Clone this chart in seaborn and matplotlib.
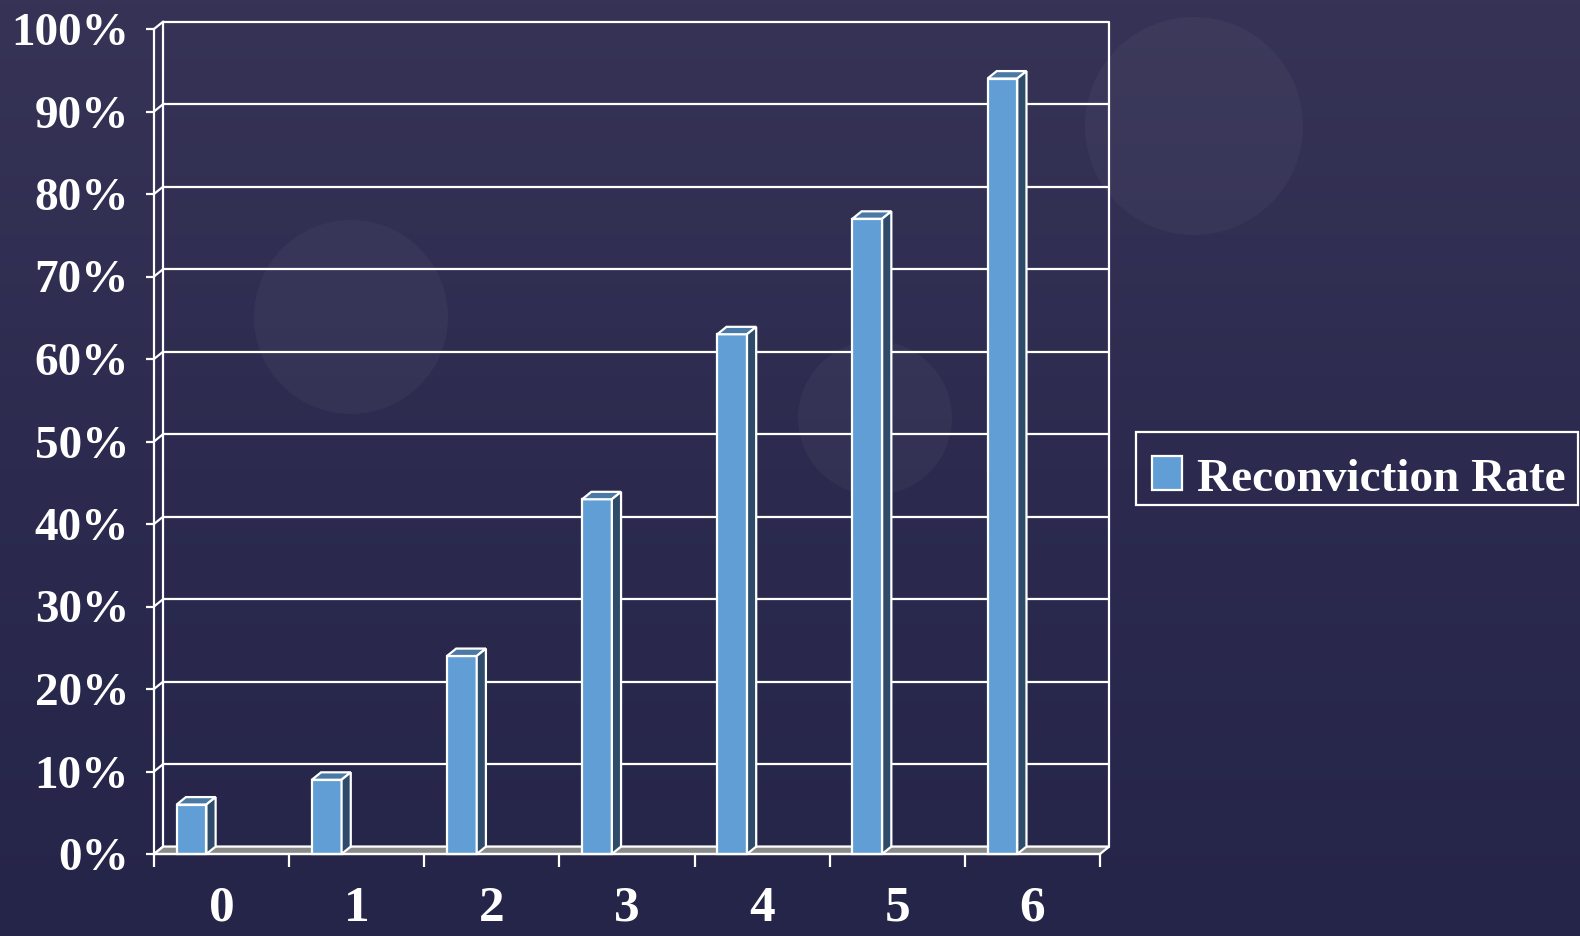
import numpy as np
import pandas as pd
import matplotlib
matplotlib.use("Agg")
import matplotlib.pyplot as plt
from matplotlib.patches import Polygon, Circle, Rectangle
from matplotlib.colors import LinearSegmentedColormap
import seaborn as sns

# --- data -------------------------------------------------------------
categories = ["0", "1", "2", "3", "4", "5", "6"]
rates = [6, 9, 24, 43, 63, 77, 94]
series_name = "Reconviction Rate"
y_ticks = list(range(0, 101, 10))
y_tick_labels = [f"{v}%" for v in y_ticks]

# --- style ------------------------------------------------------------
sns.set_theme(style="white")
plt.rcParams["font.family"] = ["Liberation Serif", "DejaVu Serif"]
plt.rcParams["font.weight"] = "bold"

FRONT = "#619ed5"
TOP = "#4b79a6"
SIDE = "#2e4b69"
FLOOR = "#8a8a8a"
LINE = "white"
LW = 1.6
FS = 34

W, H = 1580, 936
fig = plt.figure(figsize=(W / 100, H / 100), dpi=100)

# background: soft vertical gradient with faint round highlights
bg = fig.add_axes([0, 0, 1, 1], zorder=-10)
cmap = LinearSegmentedColormap.from_list("bg", ["#252449", "#2c2b4f", "#363356"])
grad = np.linspace(0, 1, 256).reshape(-1, 1)
bg.imshow(grad, cmap=cmap, aspect="auto", extent=[0, W, 0, H], origin="lower")
for cx, cy, r in [(1194, 126, 109), (351, 317, 97), (875, 418, 77)]:
    bg.add_patch(Circle((cx, H - cy), r, facecolor=(1, 1, 1, 0.035), edgecolor="none"))
bg.set_xlim(0, W)
bg.set_ylim(0, H)
bg.axis("off")

# front plane of the chart
left_px, right_px, bottom_px, top_px = 154, 1100, 854, 29
ax = fig.add_axes([left_px / W, 1 - bottom_px / H,
                   (right_px - left_px) / W, (bottom_px - top_px) / H])
ax.set_facecolor("none")

df = pd.DataFrame({"offenses": categories, "rate": rates})
bar_w = 0.22
sns.barplot(data=df, x="offenses", y="rate", color=FRONT, saturation=1,
            width=bar_w, edgecolor=LINE, linewidth=LW, ax=ax, zorder=5)
bars = [p for p in ax.patches if isinstance(p, Rectangle)]

ax.set_xlim(-0.5, len(categories) - 0.5)
ax.set_ylim(0, 100)

# depth of the pseudo-3D box in data units
dx, dy = 0.068, 0.9
x0, x1 = -0.5, len(categories) - 0.5

# back wall gridlines and edges
for g in y_ticks:
    ax.plot([x0 + dx, x1 + dx], [g + dy, g + dy], color=LINE, lw=LW,
            clip_on=False, zorder=1, solid_capstyle="butt")
    ax.plot([x0, x0 + dx], [g, g + dy], color=LINE, lw=LW, clip_on=False, zorder=1)
for xe in (x0 + dx, x1 + dx):
    ax.plot([xe, xe], [dy, 100 + dy], color=LINE, lw=LW, clip_on=False, zorder=1)

# floor
ax.add_patch(Polygon([(x0, 0), (x1, 0), (x1 + dx, dy), (x0 + dx, dy)],
                     closed=True, facecolor=FLOOR, edgecolor=LINE, lw=LW,
                     clip_on=False, zorder=2))

# shift front faces left of the category centre and add top/side faces
shift = -0.222
for p in bars:
    p.set_x(p.get_x() + shift)
    p.set_clip_on(False)
    bx, bw, bh = p.get_x(), p.get_width(), p.get_height()
    top = Polygon([(bx, bh), (bx + bw, bh), (bx + bw + dx, bh + dy), (bx + dx, bh + dy)],
                  closed=True, facecolor=TOP, edgecolor=LINE, lw=LW,
                  clip_on=False, zorder=6)
    side = Polygon([(bx + bw, 0), (bx + bw + dx, dy), (bx + bw + dx, bh + dy), (bx + bw, bh)],
                   closed=True, facecolor=SIDE, edgecolor=LINE, lw=LW,
                   clip_on=False, zorder=6)
    ax.add_patch(top)
    ax.add_patch(side)

# axes, ticks and labels
for s in ("top", "right"):
    ax.spines[s].set_visible(False)
for s in ("left", "bottom"):
    ax.spines[s].set_color(LINE)
    ax.spines[s].set_linewidth(LW)
    ax.spines[s].set_zorder(7)

ax.set_yticks(y_ticks)
ax.set_yticklabels(y_tick_labels)
ax.set_xticks(np.arange(len(categories) + 1) - 0.5)
ax.set_xticklabels([])
ax.set_xticks(np.arange(len(categories)), minor=True)
ax.set_xticklabels(categories, minor=True)

ax.tick_params(axis="y", which="major", direction="out", length=6, width=LW,
               color=LINE, labelcolor="white", labelsize=FS, pad=12, left=True)
ax.tick_params(axis="x", which="major", direction="out", length=9, width=LW,
               color=LINE, bottom=True)
ax.tick_params(axis="x", which="minor", length=0, labelcolor="white",
               labelsize=37, pad=23)
for lab in ax.get_yticklabels() + ax.get_xticklabels(minor=True):
    lab.set_fontweight("bold")
ax.set_xlabel("")
ax.set_ylabel("")

# legend box on the right (figure pixel coordinates, measured from the top)
def fx(px):
    return px / W

def fy(py):
    return 1 - py / H

fig.add_artist(Rectangle((fx(1136), fy(505)), fx(1578) - fx(1136), fy(432) - fy(505),
                         transform=fig.transFigure, facecolor="none",
                         edgecolor=LINE, lw=LW))
fig.add_artist(Rectangle((fx(1152), fy(490)), fx(1182) - fx(1152), fy(456) - fy(490),
                         transform=fig.transFigure, facecolor=FRONT,
                         edgecolor=LINE, lw=LW))
fig.text(fx(1197), fy(491), series_name, color="white", fontsize=FS,
         fontweight="bold", family="Liberation Serif", ha="left", va="baseline")

fig.savefig("out.png", dpi=100)
